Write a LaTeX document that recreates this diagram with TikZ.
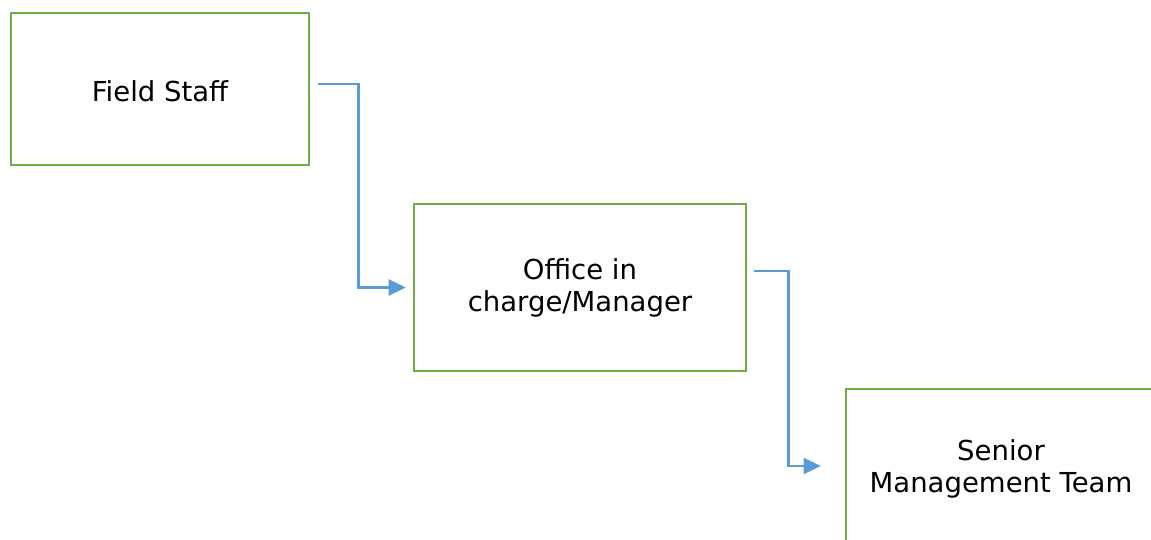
\documentclass[tikz,border=0pt]{standalone}
\usepackage{fontspec}
\setmainfont{DejaVu Sans}
\usetikzlibrary{arrows.meta}
\definecolor{boxgreen}{HTML}{70AD47}
\definecolor{linkblue}{HTML}{5B9BD5}
\begin{document}
\begin{tikzpicture}[x=1pt,y=-1pt,
  stage/.style={draw=boxgreen, line width=2.6pt, fill=white, align=center,
    inner sep=0pt, text=black, font=\fontsize{27.5}{32}\selectfont},
  link/.style={draw=linkblue, line width=2.6pt,
    -{Triangle[length=17pt,width=16pt]}}]
\useasboundingbox (0,0) rectangle (1151,540);
\begin{scope}
\clip (0,0) rectangle (1151,540);
\node[stage, minimum width=298pt, minimum height=152pt] (fs) at (160,89) {};
\node[text=black, font=\fontsize{27.5}{32}\selectfont] (fslabel) at (160,91) {Field Staff};
\node[stage, minimum width=332pt, minimum height=167pt] (oc) at (580,287.5) {Office in\\charge/Manager};
\node[stage, minimum width=310pt, minimum height=160pt] (smt) at (1001,469) {Senior\\Management Team};
\end{scope}
% connector anchors beside the boxes
\coordinate (fsout) at ([xshift=8pt,yshift=5pt]fs.east);
\coordinate (ocin)  at ([xshift=-7pt]oc.west);
\coordinate (ocout) at ([xshift=7pt,yshift=16.5pt]oc.east);
\coordinate (smtin) at ([xshift=-24pt,yshift=3pt]smt.west);
\draw[link] (fsout) -- ++(40,0) |- (ocin);
\draw[link] (ocout) -- ++(34,0) |- (smtin);
\end{tikzpicture}
\end{document}
